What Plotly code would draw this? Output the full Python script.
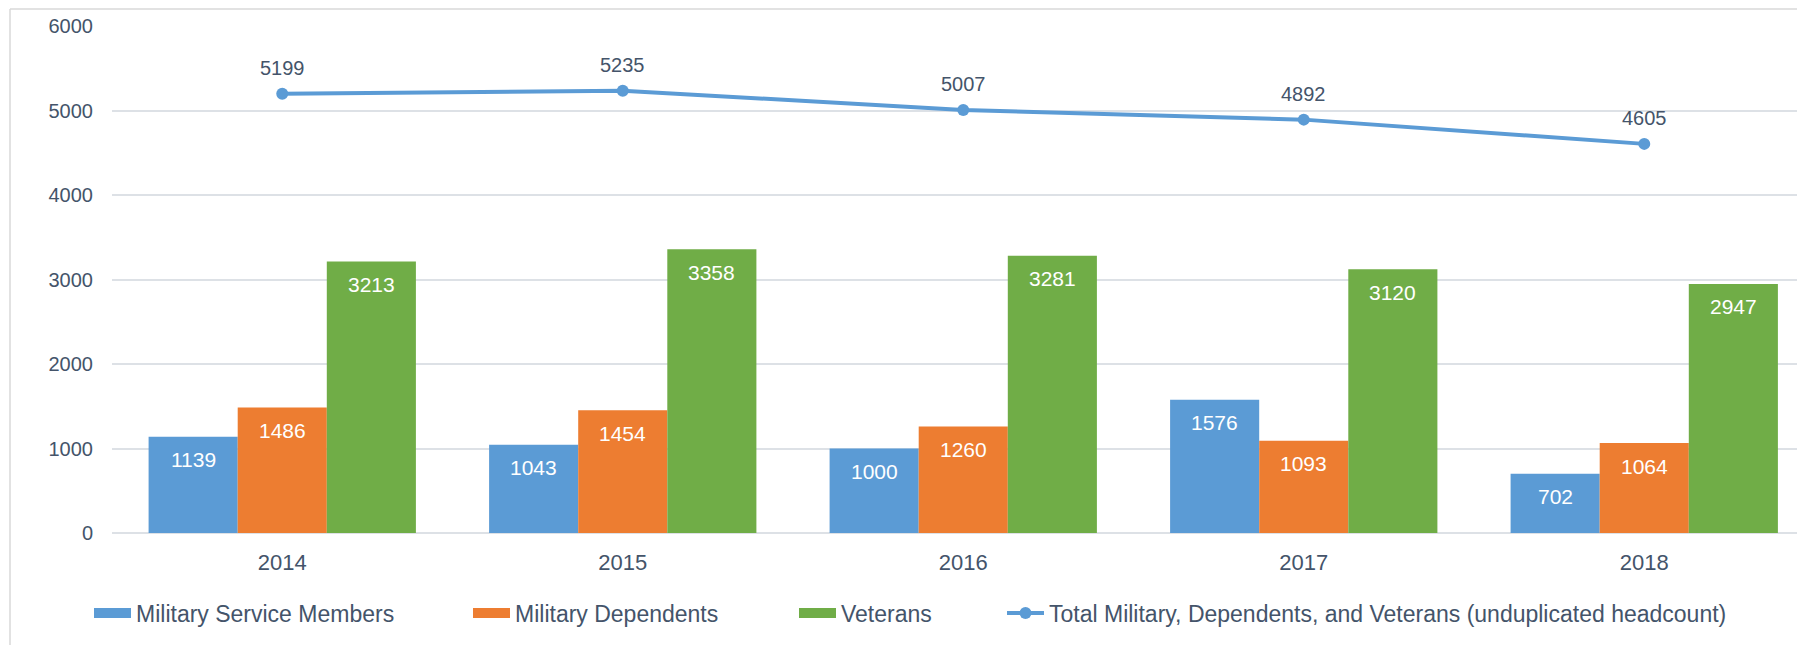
import plotly.graph_objects as go

years = ["2014", "2015", "2016", "2017", "2018"]
service_members = [1139, 1043, 1000, 1576, 702]
dependents = [1486, 1454, 1260, 1093, 1064]
veterans = [3213, 3358, 3281, 3120, 2947]
total = [5199, 5235, 5007, 4892, 4605]

names = ["Military Service Members", "Military Dependents", "Veterans",
         "Total Military, Dependents, and Veterans (unduplicated headcount)"]
colors = ["#5B9BD5", "#ED7D31", "#70AD47"]
TXT = "#44546A"
FONT = "Liberation Sans, Arial, sans-serif"

W, H = 1797, 645
ML, MT = 112, 26
PLOT_BOTTOM = 533
MB = H - PLOT_BOTTOM
plot_w = W - ML
plot_h = PLOT_BOTTOM - MT
ppu = 340.5
xmax = -0.5 + plot_w / ppu
xs = list(range(len(years)))

bargap = 0.215
bw = (1 - bargap) / 3

def px2paper_x(px):
    return (px - ML) / plot_w

def px2paper_y(py):
    return (PLOT_BOTTOM - py) / plot_h

fig = go.Figure()
series = [service_members, dependents, veterans]
for i, (vals, c) in enumerate(zip(series, colors)):
    fig.add_trace(go.Bar(x=xs, y=vals, name=names[i], marker_color=c,
                         marker_line_width=0, showlegend=False, hoverinfo="skip"))
fig.add_trace(go.Scatter(x=xs, y=total, name=names[3], mode="lines+markers",
                         line=dict(color="#5B9BD5", width=4),
                         marker=dict(size=12, color="#5B9BD5"), legend="legend4"))
# legend entries for the bar series (wide rectangular swatches)
for i, c in enumerate(colors):
    lg = "legend" if i == 0 else f"legend{i+1}"
    fig.add_trace(go.Scatter(x=[None], y=[None], name=names[i], mode="lines",
                             line=dict(color=c, width=12), legend=lg, hoverinfo="skip"))

annotations = []
for i, vals in enumerate(series):
    off = (i - 1) * bw
    for x, v in zip(xs, vals):
        annotations.append(dict(x=x + off, y=v, text=str(v), showarrow=False,
                                yshift=-23, font=dict(color="white", size=21, family=FONT)))
for x, v in zip(xs, total):
    annotations.append(dict(x=x, y=v, text=str(v), showarrow=False, yshift=26,
                            font=dict(color=TXT, size=20, family=FONT)))

leg_y = px2paper_y(613)
leg_common = dict(orientation="h", yanchor="middle", y=leg_y, xanchor="left",
                  font=dict(size=23, color=TXT, family=FONT), bgcolor="rgba(0,0,0,0)",
                  itemwidth=37)
legends = {}
for k, px in zip(["legend", "legend2", "legend3", "legend4"], [94, 473, 799, 1007]):
    legends[k] = dict(leg_common, x=px2paper_x(px - 5))

fr = "#D9D9D9"
shapes = [
    dict(type="line", xref="paper", yref="paper", x0=px2paper_x(10), x1=1.05,
         y0=px2paper_y(9), y1=px2paper_y(9), line=dict(color=fr, width=1.5)),
    dict(type="line", xref="paper", yref="paper", x0=px2paper_x(10), x1=px2paper_x(10),
         y0=px2paper_y(9), y1=px2paper_y(700), line=dict(color=fr, width=1.5)),
]

fig.update_layout(
    width=W, height=H,
    margin=dict(l=ML, r=0, t=MT, b=MB),
    paper_bgcolor="white", plot_bgcolor="white",
    barmode="group", bargap=bargap, bargroupgap=0,
    font=dict(family=FONT, color=TXT),
    annotations=annotations, shapes=shapes, showlegend=True,
    **legends,
)
fig.update_xaxes(range=[-0.5, xmax], tickmode="array", tickvals=xs, ticktext=years,
                 showgrid=False, zeroline=False, showline=False, ticks="",
                 tickfont=dict(size=22, color=TXT, family=FONT), ticklabelstandoff=14)
fig.update_yaxes(range=[0, 6000], dtick=1000, showgrid=True, gridcolor="#DDE1E6",
                 gridwidth=1.5, zeroline=True, zerolinecolor="#DDE1E6", zerolinewidth=1.5,
                 showline=False, ticks="", tickfont=dict(size=20, color=TXT, family=FONT),
                 ticklabelstandoff=18)

fig.write_html("out.html", config={"displayModeBar": False},
               post_script="document.body.style.margin='0';document.body.style.overflow='hidden';")
